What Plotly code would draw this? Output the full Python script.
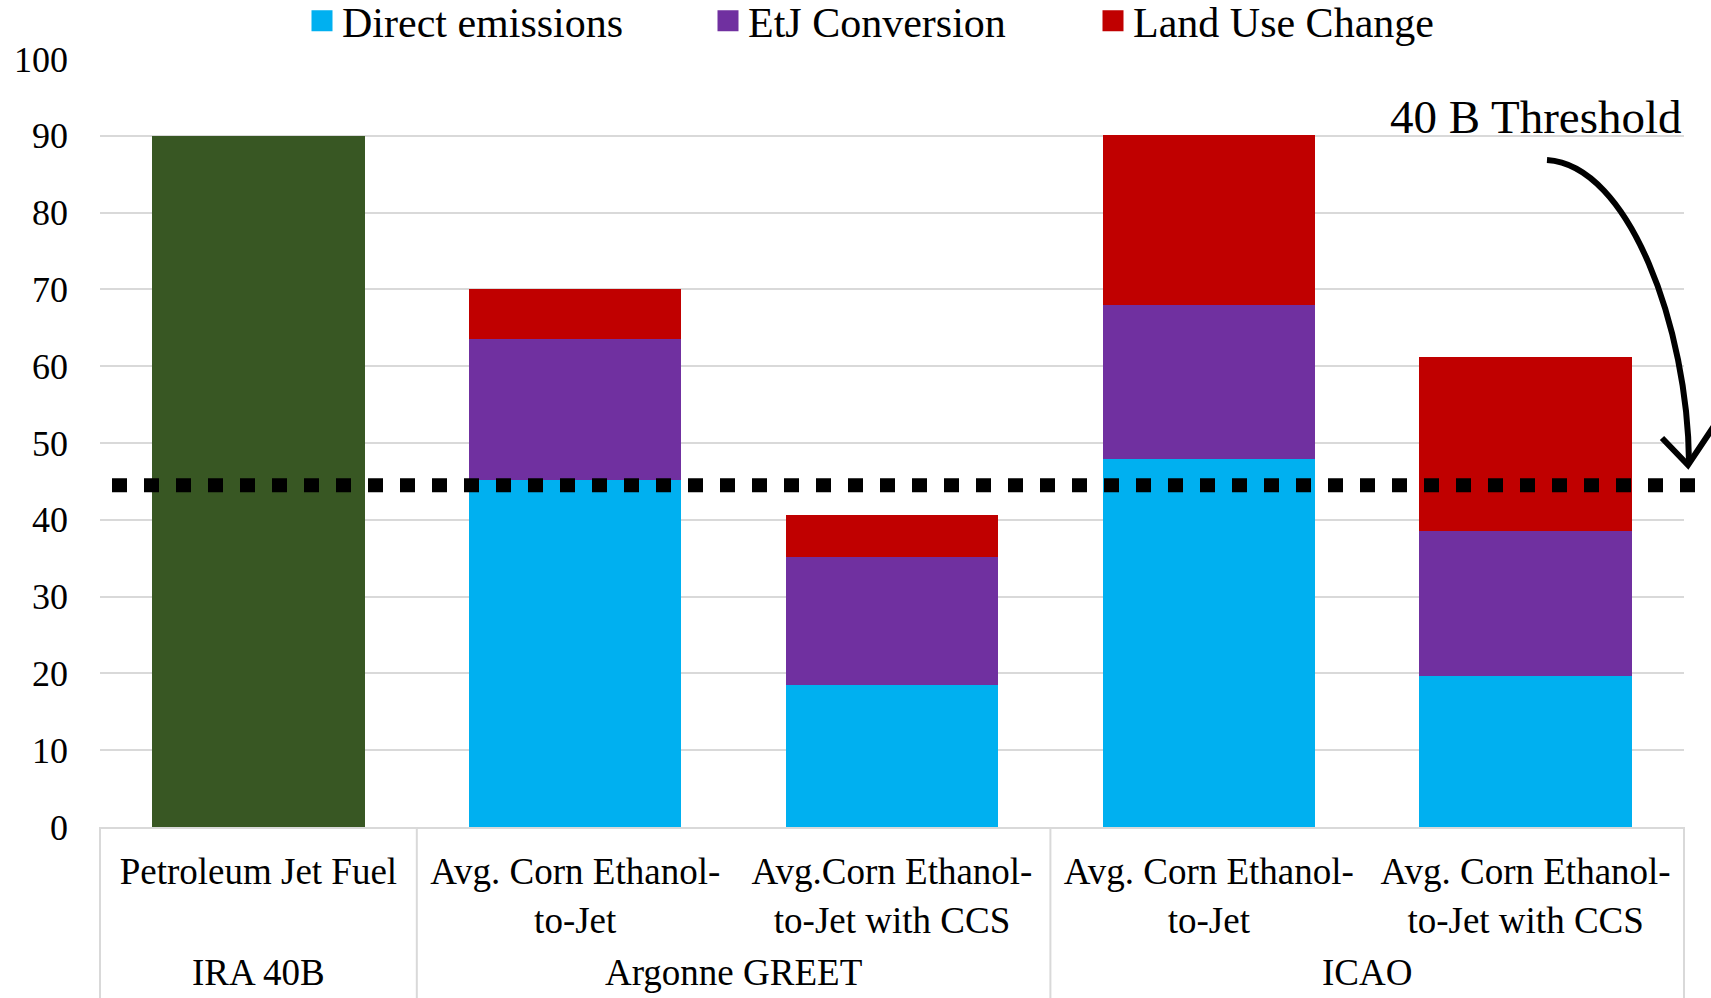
import plotly.graph_objects as go

# ---- data -------------------------------------------------------------
groups = ["IRA 40B", "Argonne GREET", "Argonne GREET", "ICAO", "ICAO"]
pathways = [
    "Petroleum Jet Fuel",
    "Avg. Corn Ethanol-<br>to-Jet",
    "Avg.Corn Ethanol-<br>to-Jet with CCS",
    "Avg. Corn Ethanol-<br>to-Jet",
    "Avg. Corn Ethanol-<br>to-Jet with CCS",
]
petroleum = [90.0, None, None, None, None]
direct_emissions = [None, 45.2, 18.5, 47.9, 19.6]
etj_conversion = [None, 18.3, 16.6, 20.1, 19.0]
land_use_change = [None, 6.5, 5.5, 22.1, 22.6]
threshold_value = 44.5
threshold_label = "40 B Threshold"
y_ticks = list(range(0, 101, 10))

# ---- styling ------------------------------------------------------------
FONT = "Times New Roman, Liberation Serif, serif"
GRID = "#d9d9d9"
C_PETRO = "#385723"
C_DIRECT = "#00b0f0"
C_ETJ = "#7030a0"
C_LUC = "#c00000"

W, H = 1711, 998
ML, MR, MT, MB = 100, 27, 59, 171
PW, PH = W - ML - MR, H - MT - MB


def px(x):
    """pixel column -> paper x"""
    return (x - ML) / PW


def py(y):
    """pixel row -> paper y"""
    return (H - MB - y) / PH


n = len(pathways)
pos = list(range(n))

fig = go.Figure()
fig.add_trace(go.Bar(x=pos, y=petroleum, name="Petroleum Jet Fuel",
                     marker=dict(color=C_PETRO, line=dict(width=0)),
                     showlegend=False))
fig.add_trace(go.Bar(x=pos, y=direct_emissions, name="Direct emissions",
                     marker=dict(color=C_DIRECT, line=dict(width=0)),
                     showlegend=False))
fig.add_trace(go.Bar(x=pos, y=etj_conversion, name="EtJ Conversion",
                     marker=dict(color=C_ETJ, line=dict(width=0)),
                     showlegend=False))
fig.add_trace(go.Bar(x=pos, y=land_use_change, name="Land Use Change",
                     marker=dict(color=C_LUC, line=dict(width=0)),
                     showlegend=False))

# legend keys (square swatches)
for name, color, lw in [("Direct emissions", C_DIRECT, 361),
                        ("EtJ Conversion", C_ETJ, 340),
                        ("Land Use Change", C_LUC, 300)]:
    fig.add_trace(go.Scatter(
        x=[0], y=[None], mode="markers", name=name,
        marker=dict(symbol="square", size=16, color=color,
                    line=dict(width=5, color=color)),
        legendwidth=lw, hoverinfo="skip"))

# group labels and the divider box below the category axis
bounds = [-0.5] + [i - 0.5 for i in range(1, n) if groups[i] != groups[i - 1]] + [n - 0.5]
for b in bounds:
    xp = (b + 0.5) / n
    fig.add_shape(type="line", xref="paper", yref="paper",
                  x0=xp, x1=xp, y0=0, y1=py(H),
                  line=dict(color=GRID, width=2))
for a, b in zip(bounds[:-1], bounds[1:]):
    name = groups[int(a + 0.5)]
    fig.add_annotation(text=name, xref="paper", yref="paper",
                       x=((a + b) / 2 + 0.5) / n, y=py(972),
                       xanchor="center", yanchor="middle", showarrow=False,
                       font=dict(family=FONT, size=37, color="black"))

# threshold line
fig.add_shape(type="line", xref="paper", yref="y",
              x0=px(112), x1=px(W), y0=threshold_value, y1=threshold_value,
              line=dict(color="black", width=14, dash="15px,17px"))

# curved arrow pointing at the threshold
p0, p1, p2, p3 = (1547, 160), (1630, 165), (1688, 330), (1689, 462)
arrow = "M{},{} C{},{} {},{} {},{}".format(
    px(p0[0]), py(p0[1]), px(p1[0]), py(p1[1]),
    px(p2[0]), py(p2[1]), px(p3[0]), py(p3[1]))
fig.add_shape(type="path", xref="paper", yref="paper", path=arrow,
              line=dict(color="black", width=6))
head = "M{},{} L{},{} L{},{}".format(
    px(1662), py(438), px(1688), py(465), px(1716), py(423))
fig.add_shape(type="path", xref="paper", yref="paper", path=head,
              line=dict(color="black", width=6))

fig.add_annotation(text=threshold_label, xref="paper", yref="paper",
                   x=1.0, y=py(117), xanchor="right", yanchor="middle",
                   showarrow=False, font=dict(family=FONT, size=47, color="black"))

fig.update_layout(
    width=W, height=H,
    margin=dict(l=ML, r=MR, t=MT, b=MB, pad=0, autoexpand=False),
    barmode="stack", bargap=0.33,
    plot_bgcolor="white", paper_bgcolor="white",
    font=dict(family=FONT, size=37, color="black"),
    legend=dict(orientation="h", x=px(302), xanchor="left",
                y=py(21), yanchor="middle", font=dict(family=FONT, size=42),
                itemwidth=30, traceorder="normal", bgcolor="rgba(0,0,0,0)"),
    showlegend=True,
)
fig.update_yaxes(range=[0, 100], tickvals=y_ticks, showgrid=True,
                 gridcolor=GRID, gridwidth=2, zeroline=False, showline=False,
                 ticks="", ticklabelstandoff=31,
                 tickfont=dict(family=FONT, size=36, color="black"))
fig.update_xaxes(range=[-0.5, n - 0.5], tickvals=pos, ticktext=pathways,
                 showgrid=False, zeroline=False, showline=True, linecolor=GRID,
                 linewidth=2, tickangle=0, ticks="", ticklabelstandoff=11,
                 tickfont=dict(family=FONT, size=37, color="black"))

fig.write_html("out.html")
